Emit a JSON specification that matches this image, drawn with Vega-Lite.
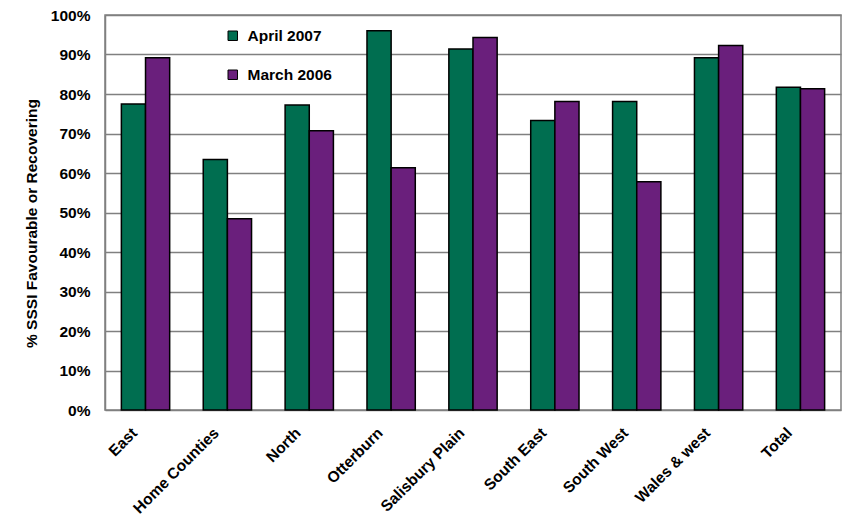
{
  "$schema": "https://vega.github.io/schema/vega-lite/v6.json",
  "autosize": {"type": "none"},
  "width": 736,
  "height": 395,
  "padding": {"left": 105, "top": 15, "right": 2, "bottom": 112},
  "config": {
    "font": "Liberation Sans",
    "view": {"stroke": "#808080", "strokeWidth": 1.5},
    "background": "white"
  },
  "data": {
    "values": [
      {"region": "East", "series": "April 2007", "value": 0.775},
      {"region": "East", "series": "March 2006", "value": 0.892},
      {"region": "Home Counties", "series": "April 2007", "value": 0.634},
      {"region": "Home Counties", "series": "March 2006", "value": 0.484},
      {"region": "North", "series": "April 2007", "value": 0.772},
      {"region": "North", "series": "March 2006", "value": 0.707},
      {"region": "Otterburn", "series": "April 2007", "value": 0.960},
      {"region": "Otterburn", "series": "March 2006", "value": 0.613},
      {"region": "Salisbury Plain", "series": "April 2007", "value": 0.914},
      {"region": "Salisbury Plain", "series": "March 2006", "value": 0.943},
      {"region": "South East", "series": "April 2007", "value": 0.733},
      {"region": "South East", "series": "March 2006", "value": 0.781},
      {"region": "South West", "series": "April 2007", "value": 0.781},
      {"region": "South West", "series": "March 2006", "value": 0.578},
      {"region": "Wales & west", "series": "April 2007", "value": 0.892},
      {"region": "Wales & west", "series": "March 2006", "value": 0.923},
      {"region": "Total", "series": "April 2007", "value": 0.817},
      {"region": "Total", "series": "March 2006", "value": 0.813}
    ]
  },
  "mark": {"type": "bar", "stroke": "black", "strokeWidth": 1.5},
  "encoding": {
    "x": {
      "field": "region",
      "type": "nominal",
      "sort": null,
      "scale": {"paddingInner": 0.41, "paddingOuter": 0.2},
      "axis": {
        "title": null,
        "labelAngle": -45,
        "labelAlign": "right",
        "labelBaseline": "middle",
        "labelFontSize": 15.5,
        "labelFontWeight": "bold",
        "labelColor": "black",
        "labelPadding": 20,
        "labelOffset": -11,
        "ticks": false,
        "domain": false,
        "grid": false
      }
    },
    "xOffset": {"field": "series", "type": "nominal", "sort": ["April 2007", "March 2006"]},
    "y": {
      "field": "value",
      "type": "quantitative",
      "scale": {"domain": [0, 1], "nice": false},
      "axis": {
        "title": "% SSSI Favourable or Recovering",
        "titleFontSize": 15.5,
        "titleFontWeight": "bold",
        "titleColor": "black",
        "titlePadding": 11,
        "titleY": 208,
        "format": "%",
        "values": [0, 0.1, 0.2, 0.3, 0.4, 0.5, 0.6, 0.7, 0.8, 0.9, 1],
        "labelFontSize": 15.5,
        "labelFontWeight": "bold",
        "labelColor": "black",
        "labelPadding": 15,
        "ticks": false,
        "domain": true,
        "domainColor": "#808080",
        "domainWidth": 1.5,
        "grid": true,
        "gridColor": "#808080",
        "gridWidth": 1.5
      }
    },
    "color": {
      "field": "series",
      "type": "nominal",
      "sort": ["April 2007", "March 2006"],
      "scale": {"domain": ["April 2007", "March 2006"], "range": ["#006E50", "#6A1F7C"]},
      "legend": {
        "title": null,
        "orient": "none",
        "legendX": 120,
        "legendY": 13,
        "symbolType": "square",
        "symbolSize": 90,
        "symbolStrokeColor": "black",
        "symbolStrokeWidth": 1,
        "labelFontSize": 15.5,
        "labelFontWeight": "bold",
        "labelColor": "black",
        "labelOffset": 7,
        "rowPadding": 22
      }
    }
  }
}
